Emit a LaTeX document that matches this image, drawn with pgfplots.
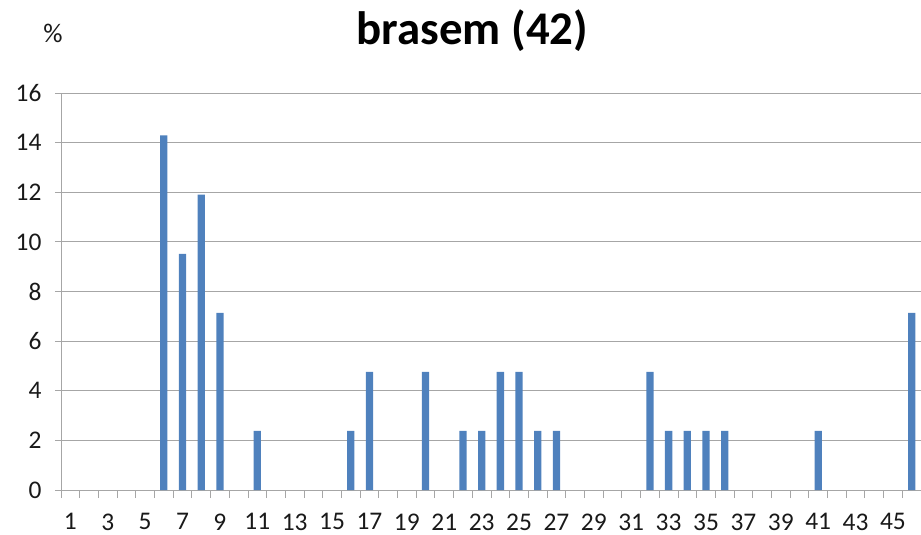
\documentclass[border=0pt]{standalone}
\usepackage{pgfplots}
\pgfplotsset{compat=1.18}
\usepackage{fontspec}
\setmainfont{Carlito}
\definecolor{barblue}{HTML}{4F81BD}
\definecolor{gridgray}{HTML}{A6A6A6}
\begin{document}
\begin{tikzpicture}
\begin{axis}[
  scale only axis,
  width=860bp, height=397bp,
  xmin=0.5, xmax=46.5,
  ymin=0, ymax=16,
  axis x line*=bottom,
  axis y line*=left,
  axis line style={gridgray, line width=0.9bp, -},
  ybar, bar width=7.3bp, bar shift=0pt,
  xtick={1,3,...,45},
  major x tick style={draw=none},
  minor xtick={0.5,1.5,...,46.5},
  minor x tick style={gridgray, line width=0.9bp},
  minor tick length=8bp,
  ytick={0,2,...,16},
  major tick length=6bp,
  tick align=outside,
  y tick style={gridgray, line width=0.9bp},
  ymajorgrids,
  major grid style={gridgray, line width=0.9bp},
  /pgf/number format/assume math mode=true,
  tick label style={font=\fontsize{25.5}{30}\selectfont, text=black!90},
  yticklabel style={xshift=-10bp},
  xticklabel style={yshift=-14bp},
  clip=false,
]
\addplot[fill=barblue, draw=none] coordinates {
(6,14.29) (7,9.52) (8,11.90) (9,7.14) (11,2.38) (16,2.38) (17,4.76)
(20,4.76) (22,2.38) (23,2.38) (24,4.76) (25,4.76) (26,2.38) (27,2.38)
(32,4.76) (33,2.38) (34,2.38) (35,2.38) (36,2.38) (41,2.38) (46,7.14)
};
\node[anchor=base, font=\fontsize{47}{52}\selectfont\bfseries] at (rel axis cs:0.4785,1) [yshift=48bp] {brasem (42)};
\node[anchor=base, font=\fontsize{27}{32}\selectfont, text=black!90] at (rel axis cs:-0.0093,1) [yshift=50bp] {\%};
\coordinate (ll) at (rel axis cs:0,0);
\coordinate (ur) at (rel axis cs:1,1);
\end{axis}
\pgfresetboundingbox
\path ([shift={(-61bp,-45bp)}]ll) rectangle ([shift={(0bp,93bp)}]ur);
\end{tikzpicture}
\end{document}
